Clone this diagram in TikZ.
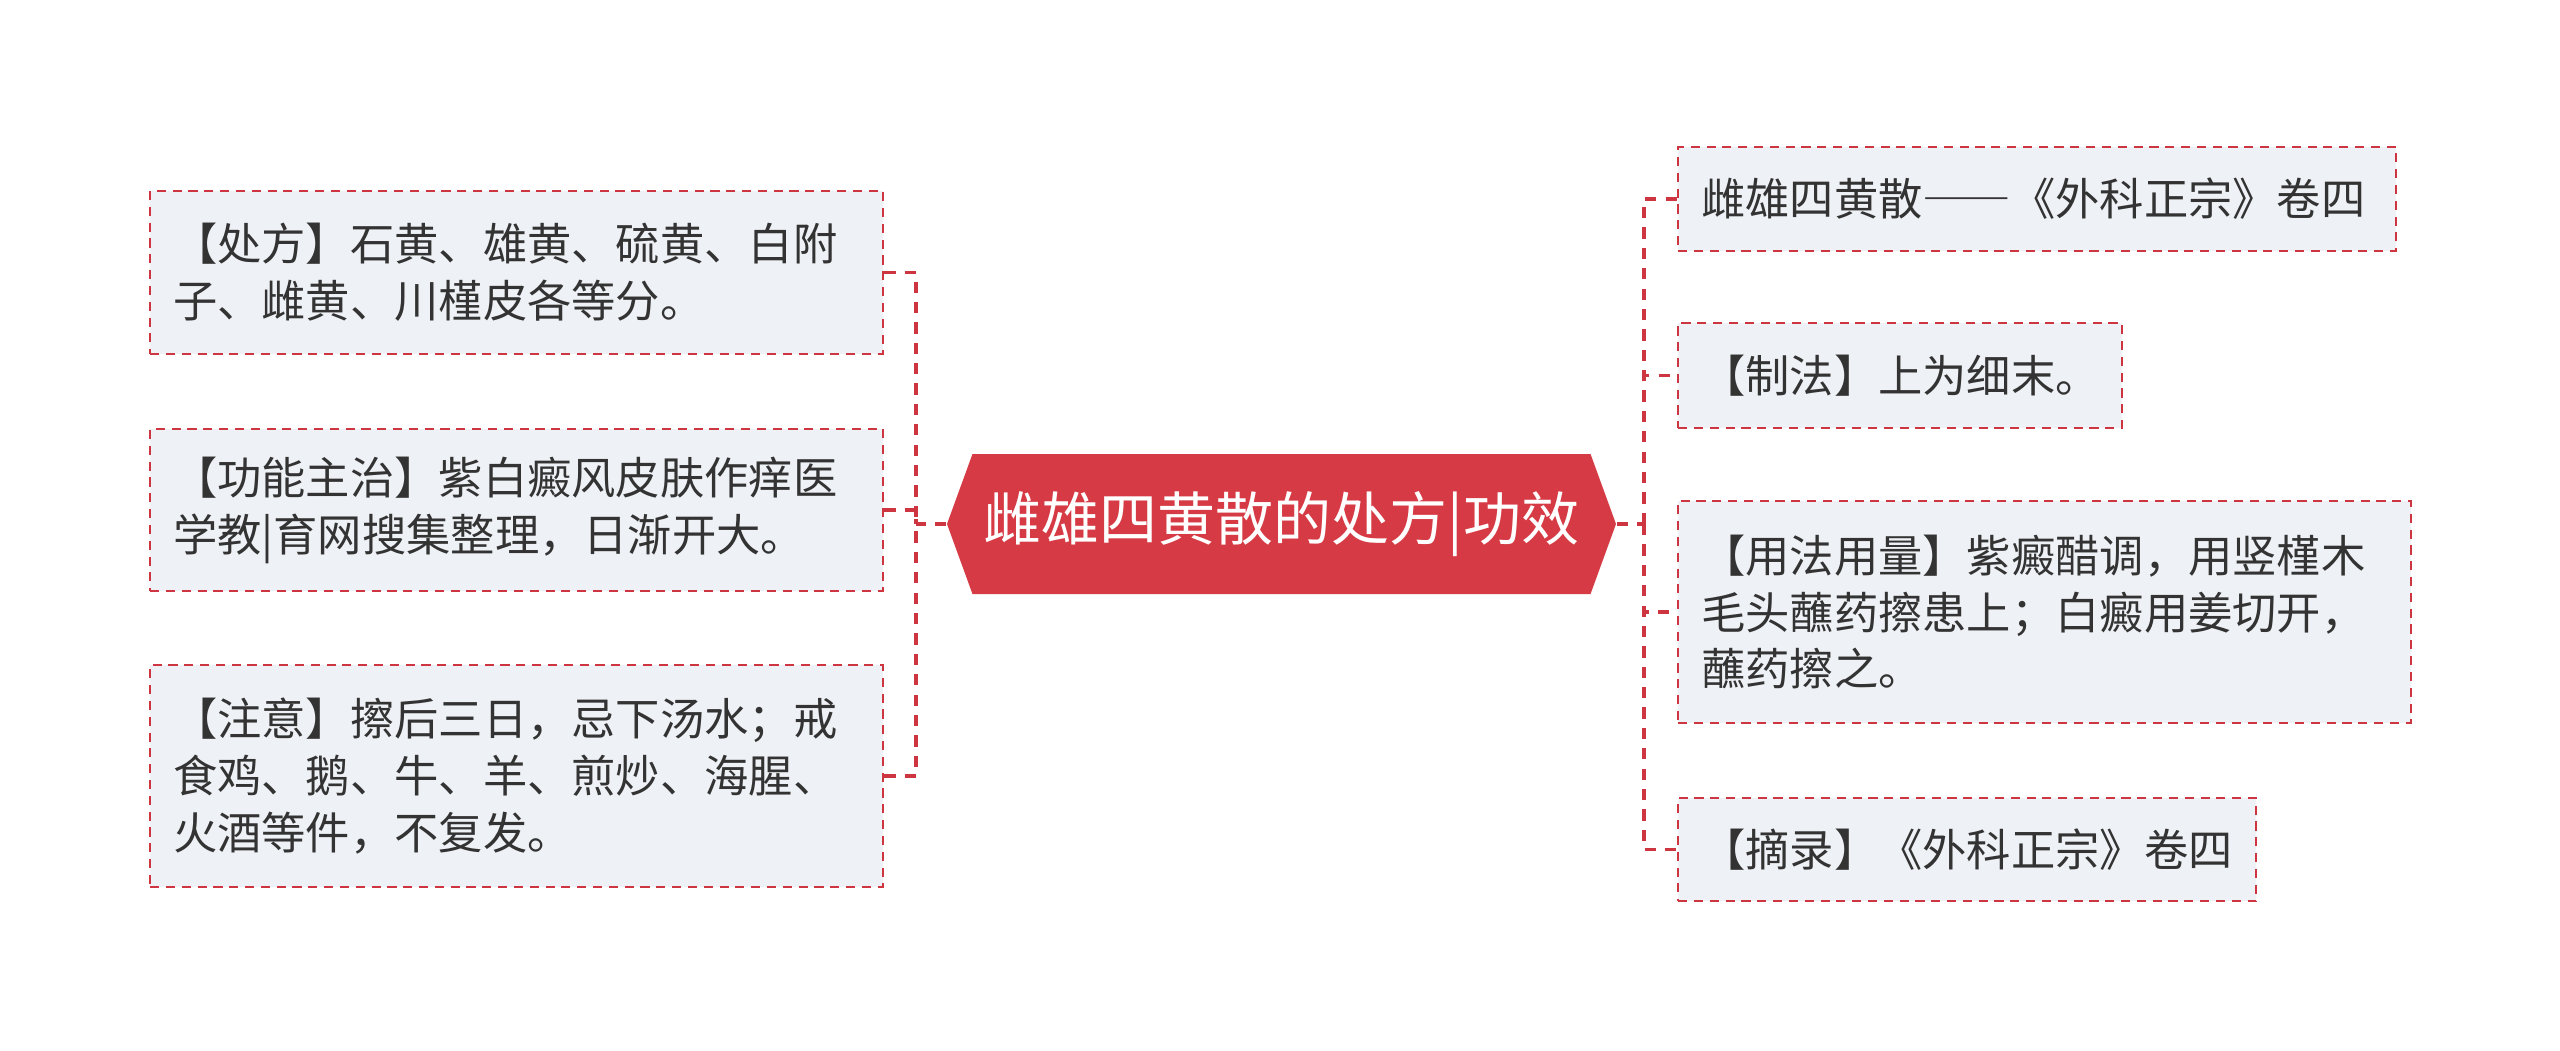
\documentclass[tikz,border=0pt]{standalone}
\usepackage{fontspec}
\setmainfont{Noto Sans CJK SC}
\usepackage{tikz}
\usetikzlibrary{shapes.symbols}
\usepackage{xcolor}
\definecolor{mmred}{HTML}{D63A44}
\definecolor{mmline}{HTML}{CD3540}
\definecolor{mmbox}{HTML}{EEF1F5}
\definecolor{mmtext}{HTML}{333333}

\begin{document}
\begin{tikzpicture}[
    topic/.style={draw=mmline, dash pattern=on 2.6pt off 1.9pt, line width=0.65pt,
                  fill=mmbox, anchor=west, align=left, inner xsep=0.23cm,
                  text=mmtext, font=\fontsize{12.6}{16.2}\selectfont},
    link/.style={draw=mmline, dash pattern=on 3.2pt off 2.6pt, line width=1pt},
    rootbox/.style={signal, signal to=west and east, signal pointer angle=140,
                    fill=mmred, text=white, minimum width=6.69cm, minimum height=1.40cm,
                    inner sep=0pt, font=\fontsize{16.5}{20}\selectfont}]
    \useasboundingbox (0,0) rectangle (25.6,10.5);

    \node[rootbox] (root) at (12.815,5.26) {雌雄四黄散的处方|功效};

    % left side
    \node[topic, text width=6.87cm, minimum height=1.63cm] (chufang)  at (1.49,7.775)
          {【处方】石黄、雄黄、硫黄、白附\\子、雌黄、川槿皮各等分。};
    \node[topic, text width=6.87cm, minimum height=1.62cm] (gongneng) at (1.49,5.40)
          {【功能主治】紫白癜风皮肤作痒医\\学教|育网搜集整理，日渐开大。};
    \node[topic, text width=6.87cm, minimum height=2.22cm] (zhuyi)    at (1.49,2.74)
          {【注意】擦后三日，忌下汤水；戒\\食鸡、鹅、牛、羊、煎炒、海腥、\\火酒等件，不复发。};

    % right side
    \node[topic, text width=6.72cm, minimum height=1.04cm] (chuchu) at (16.77,8.51)
          {雌雄四黄散{\addfontfeature{RawFeature=+fwid}——}《外科正宗》卷四};
    \node[topic, text width=3.98cm, minimum height=1.05cm] (zhifa)  at (16.77,6.745)
          {【制法】上为细末。};
    \node[topic, text width=6.87cm, minimum height=2.22cm] (yongfa) at (16.77,4.38)
          {【用法用量】紫癜醋调，用竖槿木\\毛头蘸药擦患上；白癜用姜切开，\\蘸药擦之。};
    \node[topic, text width=5.32cm, minimum height=1.03cm] (zhailu) at (16.77,2.005)
          {【摘录】《外科正宗》卷四};

    \coordinate (ljoin) at (9.16,5.26);
    \coordinate (rjoin) at (16.44,5.26);

    \draw[link] (root.west) -- (ljoin);
    \draw[link] (chufang.east)  -| (ljoin);
    \draw[link] (gongneng.east) -| (ljoin);
    \draw[link] (zhuyi.east)    -| (ljoin);

    \draw[link] (root.east) -- (rjoin);
    \draw[link] (rjoin) |- (chuchu.west);
    \draw[link] (rjoin) |- (zhifa.west);
    \draw[link] (rjoin) |- (yongfa.west);
    \draw[link] (rjoin) |- (zhailu.west);
\end{tikzpicture}
\end{document}
